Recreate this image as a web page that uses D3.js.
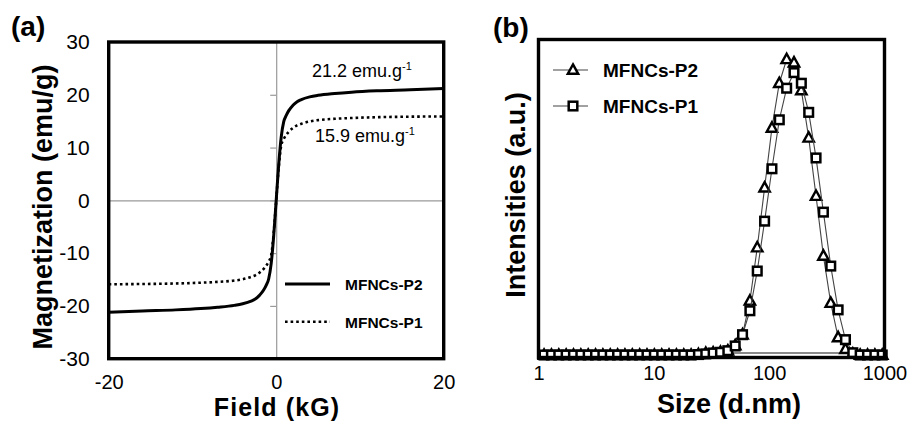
<!DOCTYPE html>
<html><head><meta charset="utf-8">
<script src="https://cdn.jsdelivr.net/npm/d3@7"></script>
<style>
body{margin:0;background:#fff}
svg{display:block}
text{font-family:"Liberation Sans",Arial,sans-serif;fill:#000}
</style>
</head><body>
<svg id="chart" width="907" height="421"></svg>
<script>
// ---- (a) magnetization loops ----
const fieldKG = [-20, -16, -12, -9, -7, -5, -4, -3, -2.5, -2, -1.5, -1.2, -0.9, -0.6, -0.3, 0,
                 0.3, 0.6, 0.9, 1.2, 1.5, 2, 2.5, 3, 4, 5, 7, 9, 12, 16, 20];
const magP2 = [-21.2, -20.95, -20.75, -20.5, -20.25, -19.9, -19.6, -19.1, -18.7, -18.0, -17.0, -16.1, -14.9, -12.0, -6.8, 0,
               6.8, 12.0, 14.9, 16.1, 17.0, 18.0, 18.7, 19.1, 19.6, 19.9, 20.25, 20.5, 20.75, 20.95, 21.2];
const magP1 = [-15.9, -15.85, -15.75, -15.6, -15.45, -15.2, -14.95, -14.5, -14.2, -13.7, -13.0, -12.4, -11.6, -10.4, -6.2, 0,
               6.2, 10.4, 11.6, 12.4, 13.0, 13.7, 14.2, 14.5, 14.95, 15.2, 15.45, 15.6, 15.75, 15.85, 15.9];
const magTicks = [-30, -20, -10, 0, 10, 20, 30];
const fieldTicks = [-20, 0, 20];
const saturation = [21.2, 15.9];

// ---- (b) DLS size distributions ----
const sizeNm = [1.117, 1.294, 1.499, 1.736, 2.010, 2.328, 2.696, 3.122, 3.615, 4.187, 4.849, 5.615,
                6.503, 7.531, 8.721, 10.10, 11.70, 13.54, 15.69, 18.17, 21.04, 24.36, 28.21, 32.67,
                37.84, 43.82, 50.75, 58.77, 68.06, 78.82, 91.28, 105.7, 122.4, 141.8, 164.2, 190.1,
                220.2, 255.0, 295.3, 342.0, 396.1, 458.7, 531.2, 615.1, 712.4, 825.0, 955.4];
const intensityP2 = [0, 0, 0, 0, 0, 0, 0, 0, 0, 0, 0, 0,
                     0, 0, 0, 0, 0, 0, 0, 0, 0, 0.03, 0.08, 0.10,
                     0.13, 0.19, 0.42, 0.90, 2.40, 4.76, 7.41, 10.06, 12.04, 13.10, 12.95, 11.72,
                     9.62, 7.04, 4.39, 2.30, 0.78, 0.26, 0.05, 0, 0, 0, 0];
const intensityP1 = [0, 0, 0, 0, 0, 0, 0, 0, 0, 0, 0, 0,
                     0, 0, 0, 0, 0, 0, 0, 0, 0, 0.02, 0.05, 0.09,
                     0.12, 0.19, 0.40, 0.90, 1.96, 3.72, 5.93, 8.25, 10.42, 11.82, 12.51, 12.04,
                     10.75, 8.73, 6.33, 3.94, 2.00, 0.68, 0.10, 0, 0, 0, 0];
const sizeTicks = [1, 10, 100, 1000];
const seriesNames = ["MFNCs-P2", "MFNCs-P1"];

const svg = d3.select("#chart");
const plain = d => String(d);   // hyphen-minus, as in the spreadsheet export

// ================= panel (a) =================
const boxA = {l: 108.7, r: 443.7, t: 42, b: 358.7};
const xA = d3.scaleLinear().domain([-20, 20]).range([boxA.l, boxA.r]);
const yA = d3.scaleLinear().domain([-30, 30]).range([boxA.b, boxA.t]);
const gA = svg.append("g");

svg.append("defs").append("clipPath").attr("id", "clipA")
  .append("rect").attr("x", boxA.l).attr("y", boxA.t)
  .attr("width", boxA.r - boxA.l).attr("height", boxA.b - boxA.t);

// zero axes through the origin
const vAxis = gA.append("g").attr("transform", `translate(${xA(0)},0)`)
  .call(d3.axisLeft(yA).tickValues(magTicks).tickSize(6).tickFormat(""));
vAxis.select(".domain").attr("stroke", "#9a9a9a").attr("stroke-width", 1.2);
vAxis.selectAll(".tick line").attr("stroke", "#9a9a9a").attr("stroke-width", 1.2);
const hAxis = gA.append("g").attr("transform", `translate(0,${yA(0)})`)
  .call(d3.axisBottom(xA).tickValues(fieldTicks).tickSize(5).tickFormat(""));
hAxis.select(".domain").attr("stroke", "#9a9a9a").attr("stroke-width", 1.2);
hAxis.selectAll(".tick line").attr("stroke", "#9a9a9a").attr("stroke-width", 1.2);

const lineA = (vals) => d3.line()
  .x((d, i) => xA(fieldKG[i])).y(d => yA(d))
  .curve(d3.curveMonotoneX)(vals);

gA.append("path").attr("clip-path", "url(#clipA)")
  .attr("d", lineA(magP1)).attr("fill", "none").attr("stroke", "#000")
  .attr("stroke-width", 2.6).attr("stroke-dasharray", "2.6 3");
gA.append("path").attr("clip-path", "url(#clipA)")
  .attr("d", lineA(magP2)).attr("fill", "none").attr("stroke", "#000")
  .attr("stroke-width", 3);

gA.append("rect").attr("x", boxA.l).attr("y", boxA.t)
  .attr("width", boxA.r - boxA.l).attr("height", boxA.b - boxA.t)
  .attr("fill", "none").attr("stroke", "#000").attr("stroke-width", 3.4);

// tick labels
const yLabA = gA.append("g").attr("transform", `translate(${boxA.l},0)`)
  .call(d3.axisLeft(yA).tickValues(magTicks).tickFormat(plain).tickSize(0).tickPadding(19));
yLabA.select(".domain").remove();
yLabA.selectAll("text").attr("font-size", 21).attr("font-family", null);
const xLabA = gA.append("g").attr("transform", `translate(0,${boxA.b})`)
  .call(d3.axisBottom(xA).tickValues(fieldTicks).tickFormat(plain).tickSize(0).tickPadding(15.8));
xLabA.select(".domain").remove();
xLabA.selectAll("text").attr("font-size", 20).attr("font-family", null);

// titles
gA.append("text").attr("x", 277).attr("y", 415.6).attr("text-anchor", "middle")
  .attr("font-size", 25).attr("letter-spacing", 1.1).attr("font-weight", "bold").text("Field (kG)");
gA.append("text").attr("transform", "translate(51.5,207) rotate(-90)")
  .attr("text-anchor", "middle").attr("font-size", 27).attr("font-weight", "bold")
  .text("Magnetization (emu/g)");
gA.append("text").attr("x", 11).attr("y", 35.5).attr("font-size", 28)
  .attr("font-weight", "bold").text("(a)");

// saturation annotations
const satPos = [{x: 312, y: 76.7}, {x: 315, y: 141.7}];
saturation.forEach((v, i) => {
  const t = gA.append("text").attr("x", satPos[i].x).attr("y", satPos[i].y)
    .attr("font-size", 18);
  t.append("tspan").text(d3.format(".1f")(v) + " emu.g");
  t.append("tspan").attr("dy", -7).attr("font-size", 11).text("-1");
});

// legend (a)
const legA = [{y: 284, dash: null, w: 3}, {y: 321.7, dash: "2.6 3", w: 2.6}];
legA.forEach((d, i) => {
  gA.append("line").attr("x1", 285).attr("x2", 330).attr("y1", d.y).attr("y2", d.y)
    .attr("stroke", "#000").attr("stroke-width", d.w)
    .attr("stroke-dasharray", d.dash);
  gA.append("text").attr("x", 345).attr("y", d.y + 6).attr("font-size", 15.5)
    .attr("font-weight", "bold").text(seriesNames[i]);
});

// ================= panel (b) =================
const boxB = {l: 538.5, r: 884.5, t: 39.5, b: 357.5};
const xB = d3.scaleLog().domain([1, 1000]).range([boxB.l, boxB.r]);
const yB = d3.scaleLinear().domain([0, 14]).range([355, 39]);
const gB = svg.append("g");

// horizontal axis at zero
gB.append("line").attr("x1", boxB.l).attr("x2", boxB.r)
  .attr("y1", yB(0) - 2).attr("y2", yB(0) - 2)
  .attr("stroke", "#8a8a8a").attr("stroke-width", 1.8);

const lineB = (vals) => d3.line()
  .x((d, i) => xB(sizeNm[i])).y(d => yB(d))(vals);

const triPath = "M0,-5.6L5.2,3.8L-5.2,3.8Z";
const addMarker = (sel, shape) => {
  if (shape === "tri") {
    sel.append("path").attr("d", triPath).attr("fill", "#fff")
      .attr("stroke", "#000").attr("stroke-width", 2.4).attr("stroke-linejoin", "miter");
  } else {
    sel.append("rect").attr("x", -4.3).attr("y", -4.3).attr("width", 8.6).attr("height", 8.6)
      .attr("fill", "#fff").attr("stroke", "#000").attr("stroke-width", 2.5);
  }
};
const drawSeries = (vals, shape) => {
  gB.append("path").attr("d", lineB(vals)).attr("fill", "none")
    .attr("stroke", "#444").attr("stroke-width", 1.1);
  const pts = gB.append("g").selectAll("g").data(vals).join("g")
    .attr("transform", (d, i) => `translate(${xB(sizeNm[i])},${yB(d)})`);
  addMarker(pts, shape);
};
drawSeries(intensityP2, "tri");
drawSeries(intensityP1, "sq");

gB.append("rect").attr("x", boxB.l).attr("y", boxB.t)
  .attr("width", boxB.r - boxB.l).attr("height", boxB.b - boxB.t)
  .attr("fill", "none").attr("stroke", "#000").attr("stroke-width", 3.4);

const xLabB = gB.append("g").attr("transform", `translate(0,${boxB.b})`)
  .call(d3.axisBottom(xB).tickValues(sizeTicks).tickFormat(d3.format("d"))
    .tickSize(0).tickPadding(8));
xLabB.select(".domain").remove();
xLabB.selectAll("text").attr("font-size", 20).attr("font-family", null);

gB.append("text").attr("x", 729).attr("y", 413).attr("text-anchor", "middle")
  .attr("font-size", 27).attr("font-weight", "bold").text("Size (d.nm)");
gB.append("text").attr("transform", "translate(525,195) rotate(-90)")
  .attr("text-anchor", "middle").attr("font-size", 27).attr("font-weight", "bold")
  .text("Intensities (a.u.)");
gB.append("text").attr("x", 493).attr("y", 36.5).attr("font-size", 28)
  .attr("font-weight", "bold").text("(b)");

// legend (b)
const legB = [{y: 70, shape: "tri"}, {y: 106, shape: "sq"}];
legB.forEach((d, i) => {
  gB.append("line").attr("x1", 553).attr("x2", 588).attr("y1", d.y).attr("y2", d.y)
    .attr("stroke", "#444").attr("stroke-width", 1.1);
  addMarker(gB.append("g").attr("transform", `translate(573,${d.y})`), d.shape);
  gB.append("text").attr("x", 603).attr("y", d.y + 7).attr("font-size", 19)
    .attr("font-weight", "bold").text(seriesNames[i]);
});
</script>
</body></html>
